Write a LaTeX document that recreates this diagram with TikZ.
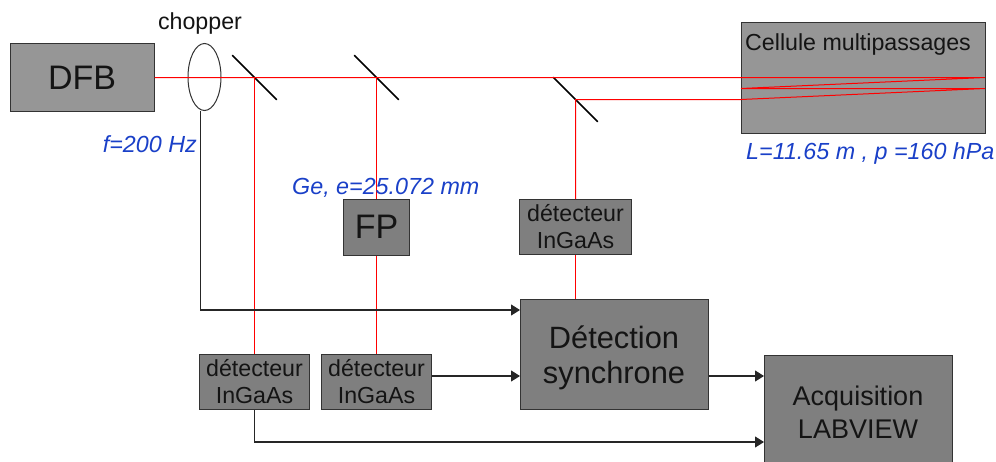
\documentclass[tikz,border=0pt]{standalone}
\usepackage{fontspec}
\usepackage{xcolor}
\usepackage{tikz}
\usetikzlibrary{calc, arrows.meta, shapes.geometric}
\setmainfont{Liberation Sans}
\definecolor{lightbox}{HTML}{969696}
\definecolor{darkbox}{HTML}{7F7F7F}
\definecolor{noteblue}{HTML}{1A40C8}
\definecolor{inkdark}{HTML}{141414}
\tikzset{every node/.append style={font=\fontsize{23.2}{27}\selectfont, text=inkdark, inner sep=0pt}}
\tikzset{box/.style={draw=black!80, line width=1pt, align=center},
    lightblock/.style={box, fill=lightbox},
    darkblock/.style={box, fill=darkbox},
    detector/.style={darkblock, minimum width=110pt, minimum height=55pt},
    beam/.style={red, line width=1pt},
    signal/.style={black!85, line width=1.1pt},
    mirror/.style={black, line width=1.5pt},
    note/.style={text=noteblue, font=\fontsize{23.3}{27}\selectfont\itshape}}

\begin{document}
\begin{tikzpicture}[x=1pt, y=-1pt, >={Stealth[length=9pt, width=11pt, inset=0pt]}]
    \path[use as bounding box, clip] (0,0) rectangle (996,461);
    \fill[white] (0,0) rectangle (996,461);
    % boxes
    \node[lightblock, minimum width=144pt, minimum height=68pt, font=\fontsize{34}{38}\selectfont] (dfb) at (82,77.5) {DFB};
    \node[draw=black!80, line width=1pt, ellipse, minimum width=33pt, minimum height=67pt] (chopper) at (204.5,77) {};
    \node[lightblock, minimum width=244pt, minimum height=111pt] (cell) at (863,77.5) {};
    \node[darkblock, minimum width=66pt, minimum height=56pt, font=\fontsize{34}{38}\selectfont] (fp) at (376.5,227) {FP};
    \node[detector, minimum width=112pt] (det3) at (575.5,227) {détecteur\\InGaAs};
    \node[detector] (det1) at (254.5,382) {détecteur\\InGaAs};
    \node[detector] (det2) at (376.5,382) {détecteur\\InGaAs};
    \node[darkblock, minimum width=188pt, minimum height=110pt] (sync) at (614,354) {};
    \node[darkblock, minimum width=188pt, minimum height=114pt, font=\fontsize{27}{33}\selectfont] (acq) at (858,412) {Acquisition\\LABVIEW};
    % mirrors
    \foreach \name/\px/\py in {m1/254.5/77.5, m2/376.5/77.5, m3/575.5/99.5} {
        \coordinate (\name) at (\px,\py);
        \draw[mirror, line cap=round] ($(\name)+(-22,-22)$) -- ($(\name)+(22,22)$);
    }
    % beams
    \coordinate (pass1) at (985,77.5);
    \coordinate (pass2) at (741,88.5);
    \coordinate (pass3) at (985,88.5);
    \coordinate (pass4) at (741,99.5);
    \draw[beam] (dfb.east) -- (pass1) -- (pass2) -- (pass3) -- (pass4) -- (m3) -- (det3.north);
    \draw[beam] (m1) -- (det1.north);
    \draw[beam] (m2) -- (fp.north);
    \draw[beam] (fp.south) -- (fp.south |- det2.north);
    \draw[beam] (det3.south) -- (det3.south |- sync.north);
    % signals
    \coordinate (syncref) at (520,310);
    \coordinate (syncdet) at (520,376);
    \coordinate (acqsync) at (764,376);
    \coordinate (acqdet) at (764,442);
    \draw[signal, ->] ([xshift=-4pt]chopper.south) |- (syncref);
    \draw[signal, ->] (det2.east |- syncdet) -- (syncdet);
    \draw[signal, ->] (sync.east |- acqsync) -- (acqsync);
    \draw[signal, ->] (det1.south) |- (acqdet);
    % labels
    \node (chopperlab) at (200,23) {chopper};
    \node[anchor=west] (celllab) at (745,44) {Cellule multipassages};
    \node[align=center, font=\fontsize{30.8}{35}\selectfont] (synclab) at (614,357.5) {Détection\\synchrone};
    \node[note, anchor=east] (freqlab) at (197,144) {f=200 Hz};
    \node[note, anchor=west] (etalonlab) at (292,188) {Ge, e=25.072 mm};
    \node[note, anchor=west] (celldata) at (746,153) {L=11.65 m , p =160 hPa};
\end{tikzpicture}
\end{document}
